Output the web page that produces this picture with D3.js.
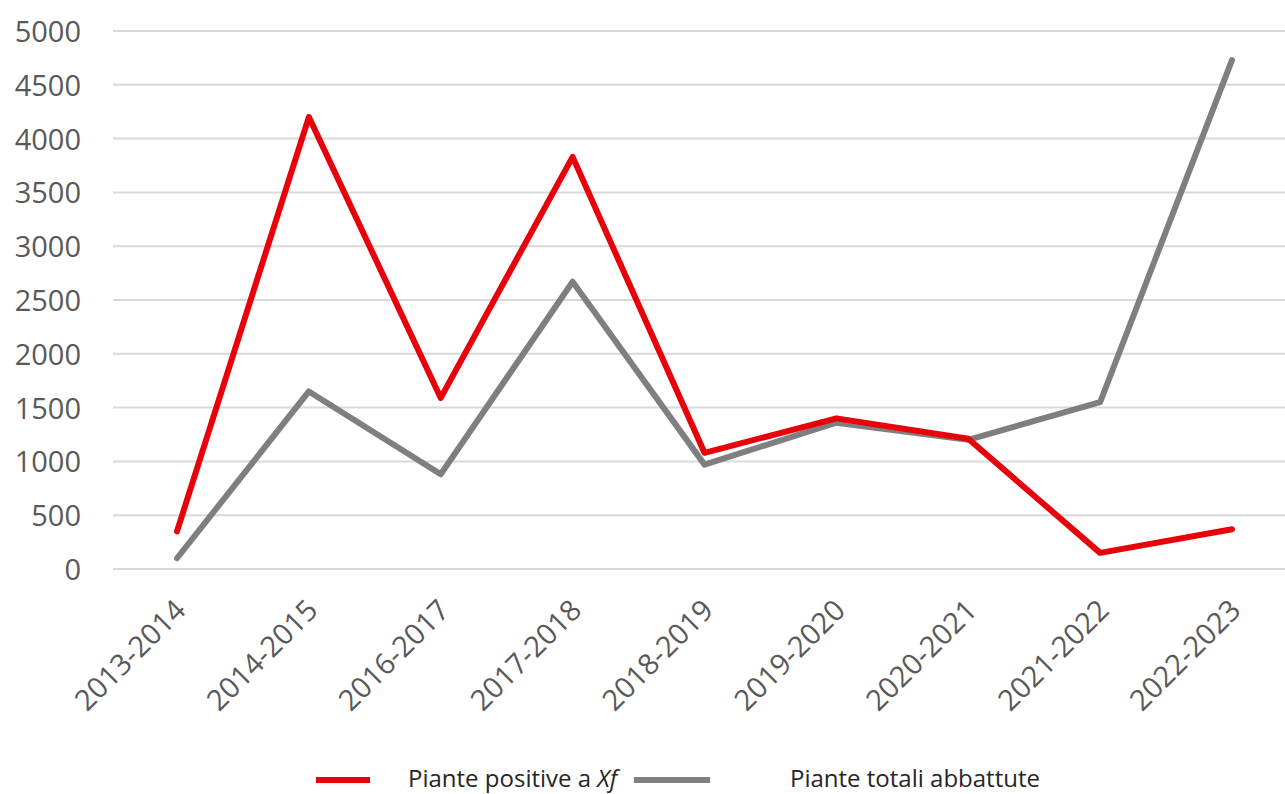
<!DOCTYPE html>
<html><head><meta charset="utf-8">
<script src="https://cdn.jsdelivr.net/npm/d3@7"></script>
<style>body{margin:0;background:#fff;} svg{display:block;}</style>
</head><body>
<svg id="c" width="1285" height="794"></svg>
<script>
const categories = ["2013-2014","2014-2015","2016-2017","2017-2018","2018-2019","2019-2020","2020-2021","2021-2022","2022-2023"];
const positive = [350, 4200, 1590, 3830, 1080, 1400, 1210, 150, 370];
const totali = [100, 1650, 880, 2670, 970, 1360, 1200, 1550, 4730];
const yTicks = [0,500,1000,1500,2000,2500,3000,3500,4000,4500,5000];
const seriesNames = ["Piante positive a ", "Piante totali abbattute"];

const svg = d3.select("#c");
const font = "'Open Sans', sans-serif";
const x = d3.scalePoint().domain(categories).range([177, 1232]);
const y = d3.scaleLinear().domain([0, 5000]).range([569, 31]);

// gridlines
svg.append("g").selectAll("line").data(yTicks).join("line")
  .attr("x1", 113).attr("x2", 1285)
  .attr("y1", d => y(d)).attr("y2", d => y(d))
  .attr("stroke", "#d9d9d9").attr("stroke-width", 2);

// y axis
const ya = svg.append("g").attr("transform", "translate(81,0)")
  .call(d3.axisLeft(y).tickValues(yTicks).tickSize(0).tickPadding(0).tickFormat(d3.format("d")));
ya.select(".domain").remove();
ya.selectAll("text").attr("font-family", font).attr("font-size", 29).attr("fill", "#595959").attr("dy", "0.36em");

// x axis
const xa = svg.append("g").attr("transform", "translate(0,569)")
  .call(d3.axisBottom(x).tickSize(0).tickPadding(0));
xa.select(".domain").remove();
xa.selectAll("text").attr("font-family", font).attr("font-size", 29).attr("fill", "#595959")
  .attr("text-anchor", "end").attr("dy", 0)
  .attr("transform", "translate(10,43) rotate(-45)");

const line = d3.line().x((d, i) => x(categories[i])).y(d => y(d));
svg.append("path").datum(totali).attr("d", line).attr("fill", "none")
  .attr("stroke", "#7f7f7f").attr("stroke-width", 6).attr("stroke-linejoin", "round").attr("stroke-linecap", "round");
svg.append("path").datum(positive).attr("d", line).attr("fill", "none")
  .attr("stroke", "#e8000b").attr("stroke-width", 6).attr("stroke-linejoin", "round").attr("stroke-linecap", "round");

// legend
const lg = svg.append("g");
lg.append("line").attr("x1", 316).attr("x2", 370).attr("y1", 780).attr("y2", 780)
  .attr("stroke", "#e8000b").attr("stroke-width", 6);
const t1 = lg.append("text").attr("x", 408).attr("y", 787).attr("font-family", font).attr("font-size", 24).attr("fill", "#262626");
t1.append("tspan").text(seriesNames[0]);
t1.append("tspan").attr("font-style", "italic").text("Xf");
lg.append("line").attr("x1", 634).attr("x2", 710).attr("y1", 780).attr("y2", 780)
  .attr("stroke", "#7f7f7f").attr("stroke-width", 6);
lg.append("text").attr("x", 790).attr("y", 787).attr("font-family", font).attr("font-size", 24).attr("fill", "#262626").text(seriesNames[1]);
</script>
</body></html>
